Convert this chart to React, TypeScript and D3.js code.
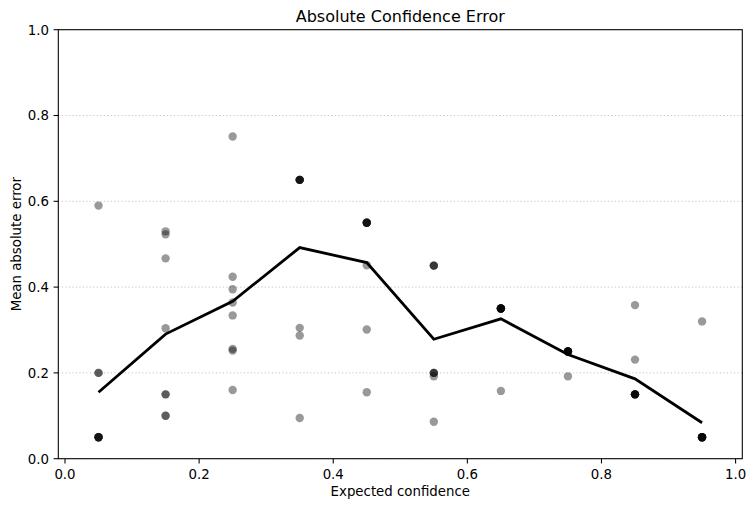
import React from "react";
import * as d3 from "d3";

const binCenters = [0.05, 0.15, 0.25, 0.35, 0.45, 0.55, 0.65, 0.75, 0.85, 0.95];
const bin005 = [0.59, 0.2, 0.2, 0.05, 0.05, 0.05, 0.05, 0.05];
const bin015 = [0.53, 0.523, 0.467, 0.304, 0.15, 0.15, 0.1, 0.1];
const bin025 = [0.751, 0.424, 0.395, 0.364, 0.334, 0.256, 0.252, 0.16];
const bin035 = [0.65, 0.65, 0.65, 0.65, 0.65, 0.305, 0.287, 0.095];
const bin045 = [0.55, 0.55, 0.55, 0.55, 0.55, 0.451, 0.301, 0.155];
const bin055 = [0.45, 0.45, 0.45, 0.2, 0.2, 0.2, 0.192, 0.086];
const bin065 = [0.35, 0.35, 0.35, 0.35, 0.35, 0.35, 0.35, 0.158];
const bin075 = [0.25, 0.25, 0.25, 0.25, 0.25, 0.25, 0.25, 0.192];
const bin085 = [0.358, 0.231, 0.15, 0.15, 0.15, 0.15, 0.15, 0.15];
const bin095 = [0.32, 0.05, 0.05, 0.05, 0.05, 0.05, 0.05, 0.05];
const binValues = [bin005, bin015, bin025, bin035, bin045, bin055, bin065, bin075, bin085, bin095];
const xTicks = [0.0, 0.2, 0.4, 0.6, 0.8, 1.0];
const yTicks = [0.0, 0.2, 0.4, 0.6, 0.8, 1.0];

const W = 756;
const H = 509;
const L = 58.3, R = 742.3, T = 29.7, B = 458.7;
const FONT = "DejaVu Sans, sans-serif";
const FS = 13.33;

export default function App() {
  const x = d3.scaleLinear().domain([-0.01, 1.01]).range([L, R]);
  const y = d3.scaleLinear().domain([0, 1]).range([B, T]);
  const points: { cx: number; v: number }[] = [];
  binCenters.forEach((c, i) => binValues[i].forEach((v) => points.push({ cx: c, v })));
  const means = binCenters.map((c, i) => [c, d3.mean(binValues[i]) as number] as [number, number]);
  const line = d3.line<[number, number]>().x((d) => x(d[0])).y((d) => y(d[1]));

  return (
    <svg width={W} height={H} style={{ position: "absolute", left: 0, top: 0 }} fontFamily={FONT}>
      <rect x={0} y={0} width={W} height={H} fill="#fff" />
      {yTicks.map((t) => (
        <line key={"g" + t} x1={L} x2={R} y1={y(t)} y2={y(t)} stroke="#c8c8c8" strokeWidth={1} strokeDasharray="1.3,2.2" />
      ))}
      {points.map((p, i) => (
        <circle key={i} cx={x(p.cx)} cy={y(p.v)} r={4.2} fill="#000" fillOpacity={0.4} />
      ))}
      <path d={line(means) || ""} fill="none" stroke="#000" strokeWidth={2.8} strokeLinejoin="miter" />
      <rect x={L} y={T} width={R - L} height={B - T} fill="none" stroke="#000" strokeWidth={1.07} />
      {xTicks.map((t) => (
        <g key={"x" + t}>
          <line x1={x(t)} x2={x(t)} y1={B} y2={B + 4.7} stroke="#000" strokeWidth={1.07} />
          <text x={x(t)} y={B + 20} fontSize={FS} textAnchor="middle">{t.toFixed(1)}</text>
        </g>
      ))}
      {yTicks.map((t) => (
        <g key={"y" + t}>
          <line x1={L - 4.7} x2={L} y1={y(t)} y2={y(t)} stroke="#000" strokeWidth={1.07} />
          <text x={L - 9.3} y={y(t) + 4.8} fontSize={FS} textAnchor="end">{t.toFixed(1)}</text>
        </g>
      ))}
      <text x={(L + R) / 2} y={496} fontSize={FS} textAnchor="middle">Expected confidence</text>
      <text transform={`translate(21,${(T + B) / 2}) rotate(-90)`} fontSize={FS} textAnchor="middle">Mean absolute error</text>
      <text x={(L + R) / 2} y={22} fontSize={16} textAnchor="middle">Absolute Confidence Error</text>
    </svg>
  );
}
